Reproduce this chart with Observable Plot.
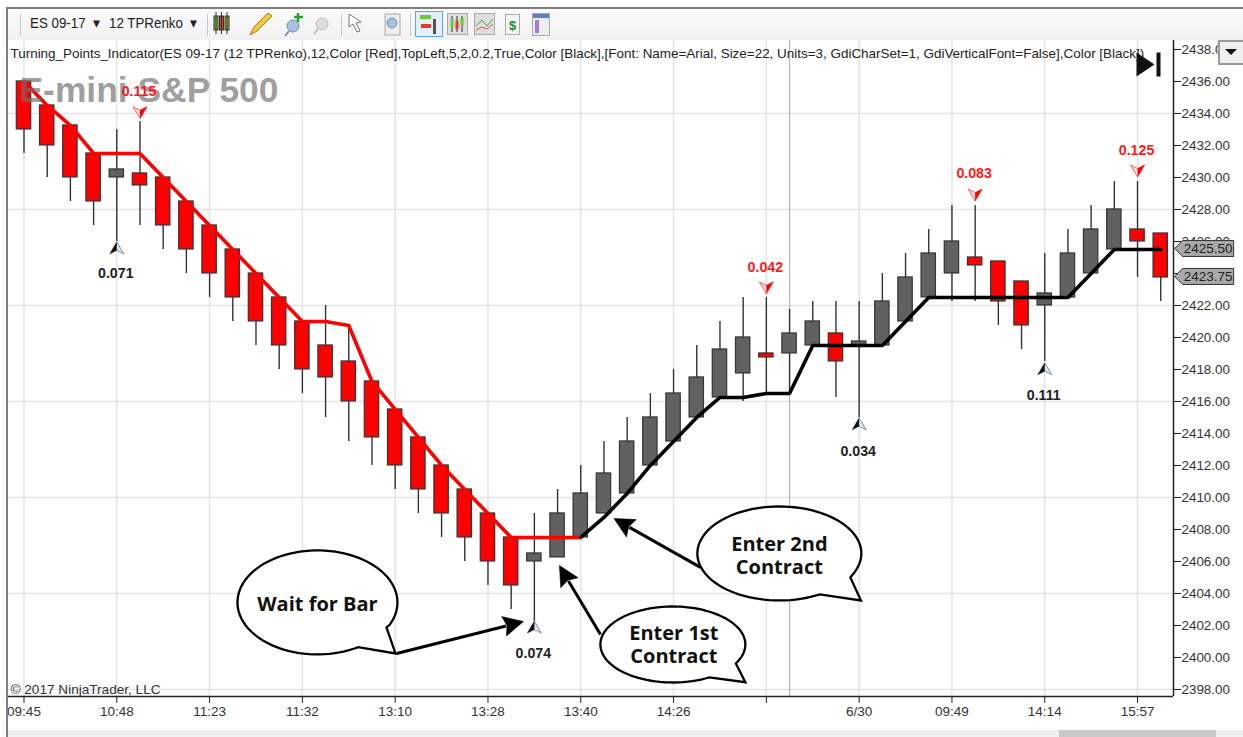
<!DOCTYPE html>
<html>
<head>
<meta charset="utf-8">
<script src="https://cdn.jsdelivr.net/npm/d3@7"></script>
<script src="https://cdn.jsdelivr.net/npm/@observablehq/plot@0.6"></script>
<style>
html,body{margin:0;padding:0;background:#fff;overflow:hidden}
#page{position:relative;width:1243px;height:737px;overflow:hidden;font-family:"Liberation Sans",Arial,sans-serif}
#chart svg{display:block;background:transparent}
.a{position:absolute}
.tb{font-size:14.5px;color:#222;top:15px;white-space:pre;transform:scaleX(.92);transform-origin:left}
</style>
</head>
<body>
<div id="page">
  <div id="chart"></div>
  <div class="a" style="left:8px;top:9px;width:1235px;height:31px;background:linear-gradient(#fafafa,#f1f1f1)"></div>
  <div class="a" style="left:0;top:0;width:6px;height:737px;background:#fff"></div>
  <div class="a" style="left:6px;top:7px;width:1237px;height:2px;background:#7f7f7f"></div>
  <div class="a" style="left:6px;top:7px;width:2px;height:730px;background:#7f7f7f"></div>
  <div class="a" style="left:8px;top:730px;width:1235px;height:7px;background:#f0f0f0"></div>
  <div class="a" style="left:1059px;top:730px;width:157px;height:7px;background:#c9c9c9"></div>
  <div class="a tb" style="left:30px">ES 09-17  ▾</div>
  <div class="a tb" style="left:109px">12 TPRenko  ▾</div>
  <div class="a" id="tools" style="left:0;top:9px;width:600px;height:31px"></div>
  <div class="a" style="left:1218px;top:40px;width:23px;height:21px;background:#efefef;border:2px solid #9a9a9a;box-sizing:content-box"></div>
  <div class="a" style="left:1225px;top:49px;width:0;height:0;border-left:6px solid transparent;border-right:6px solid transparent;border-top:6px solid #111"></div>
</div>
<script>
// ---- data (prices) ----
const barTop = [2436,2434.5,2433.25,2431.5,2430.5,2430.25,2430,2428.5,2427,2425.5,2424,2422.5,2421,2419.5,2418.5,2417.25,2415.5,2413.75,2412,2410.5,2409,2407.5,2406.5,2409,2410.25,2411.5,2413.5,2415,2416.5,2417.5,2419.25,2420,2419,2420.25,2421,2420.25,2419.75,2422.25,2423.75,2425.25,2426,2425,2424.75,2423.5,2422.75,2425.25,2426.75,2428,2426.75,2426.5];
const barBottom = [2433,2432,2430,2428.5,2430,2429.5,2427,2425.5,2424,2422.5,2421,2419.5,2418,2417.5,2416,2413.75,2412,2410.5,2409,2407.5,2406,2404.5,2406,2406.25,2407.5,2409,2410.25,2412,2413.5,2415,2416.25,2417.75,2418.75,2419,2419.5,2418.5,2419.5,2419.5,2421,2422.5,2424,2424.5,2422.25,2420.75,2422,2422.5,2424,2425.5,2426,2423.75];
const barHigh = [2436,2434.5,2433.25,2431.5,2433,2433.5,2430,2428.5,2427,2425.5,2424,2422.5,2421,2422,2420.75,2417.25,2415.5,2413.75,2412,2410.5,2409,2407.5,2409,2410.5,2412,2413.5,2415,2416.5,2418,2419.5,2421,2422.5,2422.5,2421.75,2422.25,2422.25,2422.25,2424,2425.25,2426.75,2428.25,2428.25,2424.75,2423.5,2425.25,2426.75,2428.25,2429.75,2429.75,2426.5];
const barLow = [2431.5,2430,2428.5,2427,2426,2427,2425.5,2424,2422.5,2421,2419.5,2418,2416.5,2415,2413.5,2412,2410.5,2409,2407.5,2406,2404.5,2403,2402.25,2406.25,2407.5,2409,2410.25,2412,2413.5,2415,2416.25,2416,2416.5,2416.5,2419.5,2416.25,2415,2419.5,2421,2422.5,2422.25,2422.25,2420.75,2419.25,2418.5,2422.5,2424,2425.5,2423.75,2422.25];
const barUp = [0,0,0,0,1,0,0,0,0,0,0,0,0,0,0,0,0,0,0,0,0,0,1,1,1,1,1,1,1,1,1,1,0,1,1,0,1,1,1,1,1,0,0,0,1,1,1,1,0,0];
const redLine = [2436,2434.5,2433.25,2431.5,2431.5,2431.5,2430,2428.5,2427,2425.5,2424,2422.5,2421,2421,2420.75,2417.25,2415.5,2413.75,2412,2410.5,2409,2407.5,2407.5,2407.5,2407.5];
const blackLine = [2407.5,2408.75,2410.25,2412,2413.5,2415,2416.25,2416.25,2416.5,2416.5,2419.5,2419.5,2419.5,2419.5,2421,2422.5,2422.5,2422.5,2422.5,2422.5,2422.5,2422.5,2424,2425.5,2425.5,2425.5];
const blackStart = 24;

const markerBar = [5,4,22,32,36,41,44,48];
const markerPrice = [2434.05,2425.6,2401.9,2423.1,2414.6,2428.9,2418.05,2430.4];
const markerLabelPrice = [2435.4,2424,2400.25,2424.4,2412.9,2430.25,2416.4,2431.7];
const markerText = ["0.115","0.071","0.074","0.042","0.034","0.083","0.111","0.125"];
const markerDown = [1,0,0,1,0,1,0,1];

const xTickBars = [0,4,8,12,16,20,24,28,32,36,40,44,48];
const xTickLabels = ["09:45","10:48","11:23","11:32","13:10","13:28","13:40","14:26","","6/30","09:49","14:14","15:57"];
const xGridBars = xTickBars;
const sessionBar = 33;
const yTicks = d3.range(2398, 2440, 2);
const yGrid = [2398,2404,2410,2416,2422,2428,2434];
const priceFlags = [2425.5,2423.75];

const bubbleBar = [12.65,27.97,32.56];
const bubblePrice = [2403.44,2400.81,2406.5];
const bubbleTexts = [["Wait for Bar"],["Enter 1st","Contract"],["Enter 2nd","Contract"]];
const arrowFromBar = [16.06,24.85,29.16];
const arrowFromPrice = [2400.25,2401.44,2405.63];
const arrowToBar = [20.78,23.47,26.1];
const arrowToPrice = [2401.97,2404.78,2408.13];
const arrowTipBar = [21.53,23.08,25.43];
const arrowTipPrice = [2402.25,2405.75,2408.69];
const arrowRotate = [76,-30,-60.5];

const indicatorText = "Turning_Points_Indicator(ES 09-17 (12 TPRenko),12,Color [Red],TopLeft,5,2,0.2,True,Color [Black],[Font: Name=Arial, Size=22, Units=3, GdiCharSet=1, GdiVerticalFont=False],Color [Black])";

// ---- tables ----
const bars = barTop.map((t,i)=>({i,top:t,bottom:barBottom[i],high:barHigh[i],low:barLow[i],up:barUp[i]}));
const redPts = redLine.map((p,i)=>({i,p}));
const blackPts = blackLine.map((p,i)=>({i:i+blackStart,p}));
const markers = markerBar.map((b,k)=>({b,p:markerPrice[k],lp:markerLabelPrice[k],t:markerText[k],down:markerDown[k]}));
const arrows = arrowTipBar.map((b,k)=>({fx:arrowFromBar[k],fy:arrowFromPrice[k],tx:arrowToBar[k],ty:arrowToPrice[k],b,p:arrowTipPrice[k],r:arrowRotate[k]}));

// ---- symbols ----
function poly(pts){return {draw(c){pts.forEach((q,i)=>i?c.lineTo(q[0],q[1]):c.moveTo(q[0],q[1]));c.closePath();}};}
const downFull = poly([[-7,-6],[0,-2.5],[7,-6],[0,6]]);
const downHalf = poly([[0,-2.5],[7,-6],[0,6]]);
const upFull = poly([[0,-6],[7,6],[0,2.5],[-7,6]]);
const upHalf = poly([[0,-6],[0,2.5],[-7,6]]);
const arrowHead = poly([[0,0],[10,20],[0,17],[-10,20]]);
const flag = poly([[0,0],[8,-8],[59,-8],[59,8],[8,8]]);
const skipTri = poly([[-24,-12],[-6,0],[-24,12]]);
const skipBar = poly([[-4,-12],[0,-12],[0,12],[-4,12]]);
function bubble(rx,ry,n,tip,back){
  return {draw(c){
    const a1=Math.atan2(n[1]/ry,n[0]/rx), a2=Math.atan2(back[1]/ry,back[0]/rx)-2*Math.PI;
    c.moveTo(n[0],n[1]);
    for(let k=1;k<=90;k++){const a=a1+(a2-a1)*k/90;c.lineTo(rx*Math.cos(a),ry*Math.sin(a));}
    c.lineTo(tip[0],tip[1]);c.closePath();
  }};
}
const bubbleShapes=[bubble(80,52,[69,25],[78,51],[41,45]),bubble(72.5,38,[63,19],[72.5,37.7],[35.5,32]),bubble(82,47,[71,24],[81.6,47],[40.7,41])];

const FONT="Liberation Sans";
const chart = Plot.plot({
  width:1243,height:737,
  marginLeft:8,marginRight:70,marginTop:40,marginBottom:41,
  style:{fontFamily:FONT,background:"transparent",overflow:"visible"},
  x:{domain:[-0.668,49.55],axis:null},
  y:{domain:[2397.56,2438.56],axis:null},
  marks:[
    Plot.gridX(xGridBars,{stroke:"#e4e4e4",strokeOpacity:1,strokeWidth:1.5}),
    Plot.gridY(yGrid,{stroke:"#e4e4e4",strokeOpacity:1,strokeWidth:1.5}),
    Plot.ruleX([sessionBar],{stroke:"#b4b4b4",strokeWidth:1.2}),
    Plot.ruleX(bars,{x:"i",y1:"low",y2:"high",stroke:"#333",strokeWidth:1.4}),
    Plot.rect(bars,{x1:d=>d.i-0.31,x2:d=>d.i+0.31,y1:"bottom",y2:"top",fill:d=>d.up?"#616161":"#ff0000",stroke:"#333",strokeWidth:1.2}),
    Plot.line(redPts,{x:"i",y:"p",stroke:"#ff0000",strokeWidth:3.6,strokeLinejoin:"miter",curve:"linear"}),
    Plot.line(blackPts,{x:"i",y:"p",stroke:"#000",strokeWidth:3.6,strokeLinejoin:"miter",curve:"linear"}),
    Plot.text(["E-mini S&P 500"],{text:d=>d,frameAnchor:"top-left",dx:11,dy:36,fontSize:35.4,fontWeight:"bold",fill:"#6e6e6e",fillOpacity:0.68,textAnchor:"start",lineAnchor:"top"}),
    Plot.dot(markers.filter(d=>d.down),{x:"b",y:"p",symbol:downFull,fill:"#ffd9d9",stroke:"#ff3030",strokeWidth:0.7}),
    Plot.dot(markers.filter(d=>d.down),{x:"b",y:"p",symbol:downHalf,fill:"#ff0000",stroke:"none"}),
    Plot.dot(markers.filter(d=>!d.down),{x:"b",y:"p",symbol:upFull,fill:"#dbe6f2",stroke:"#5a6a80",strokeWidth:0.7}),
    Plot.dot(markers.filter(d=>!d.down),{x:"b",y:"p",symbol:upHalf,fill:"#111",stroke:"none"}),
    Plot.text(markers,{x:"b",y:"lp",text:"t",dx:-1,fontSize:14.2,fontWeight:"bold",fill:d=>d.down?"#ff1a1a":"#222"}),
    Plot.link(arrows,{x1:"fx",y1:"fy",x2:"tx",y2:"ty",stroke:"#000",strokeWidth:3,curve:"linear"}),
    Plot.dot(arrows,{x:"b",y:"p",symbol:arrowHead,rotate:"r",fill:"#000",stroke:"#000",strokeWidth:0.5}),
    ...bubbleShapes.map((s,k)=>Plot.dot([k],{x:d=>bubbleBar[d],y:d=>bubblePrice[d],symbol:s,fill:"#fff",stroke:"#000",strokeWidth:2.3})),
    ...bubbleTexts.map((lines,k)=>Plot.text([lines.join("\n")],{x:()=>bubbleBar[k],y:()=>bubblePrice[k],text:d=>d,dx:k==1?1:0,dy:k==2?2:(k==0?1:0),fontSize:20,fontWeight:"bold",fontFamily:"Open Sans",fill:"#111",lineHeight:1.15})),
    Plot.ruleY([2397.56],{stroke:"#222",strokeWidth:1.5}),
    Plot.ruleX([49.55],{stroke:"#222",strokeWidth:1.5}),
    Plot.axisX(xTickBars,{anchor:"bottom",label:null,tickSize:7,tickPadding:3,fontSize:13.5,tickFormat:d=>xTickLabels[xTickBars.indexOf(d)],stroke:"#222",fill:"#333"}),
    Plot.axisY(yTicks,{anchor:"right",label:null,tickSize:7,tickPadding:1,fontSize:13.4,tickFormat:d=>d.toFixed(2),textAnchor:"start",stroke:"#222",fill:"#333"}),
    Plot.dot(priceFlags,{x:()=>49.6,y:d=>d,dy:-1,symbol:flag,fill:"#a8a8a8",stroke:"#333",strokeWidth:1}),
    Plot.text(priceFlags,{x:()=>49.6,y:d=>d,text:d=>d.toFixed(2),dx:9,dy:-1,fontSize:13.5,fill:"#222",textAnchor:"start"}),
    Plot.text([indicatorText],{text:d=>d,frameAnchor:"top-left",dx:2,dy:8,fontSize:13.45,fill:"#222",textAnchor:"start",lineAnchor:"top"}),
    Plot.text(["© 2017 NinjaTrader, LLC"],{text:d=>d,frameAnchor:"bottom-left",dx:2,dy:-3,fontSize:13.6,fill:"#333",textAnchor:"start",lineAnchor:"bottom"}),
    Plot.dot([0],{frameAnchor:"top-right",dx:-13,dy:24,symbol:skipTri,fill:"#111",stroke:"none"}),
    Plot.dot([0],{frameAnchor:"top-right",dx:-13,dy:24,symbol:skipBar,fill:"#111",stroke:"none"})
  ]
});
document.getElementById("chart").append(chart);

// ---- toolbar icons ----
document.getElementById("tools").innerHTML = `<svg width="600" height="31" style="display:block">
<g stroke="#c8c8c8"><path d="M20.5 5V27M207.5 5V27M341.5 5V27M410.5 5V27"/></g>
<g stroke="#333" fill="#7ec02a"><rect x="214" y="7" width="4" height="14"/><rect x="225" y="7" width="4" height="14" /></g><rect x="219.5" y="7" width="4" height="14" fill="#e33" stroke="#333"/><path d="M216 3V25M221.5 3V25M227 3V25" stroke="#333"/>
<path d="M250 26l4-8 14-14 4 3-15 15z" fill="#f5c93a" stroke="#a87a10"/>
<circle cx="293" cy="17" r="6" fill="#a8c0dc" stroke="#6f8fb5"/><path d="M289 22l-4 5" stroke="#6f8fb5" stroke-width="2"/><path d="M298 4v9M294 8h9" stroke="#2ca02c" stroke-width="2.5"/>
<circle cx="322" cy="15" r="6" fill="#ddd" stroke="#bbb"/><path d="M318 20l-4 5" stroke="#bbb" stroke-width="2"/>
<path d="M349 5l12 8-5 1 4 8-3 1-4-8-4 3z" fill="#fff" stroke="#777"/>
<rect x="385" y="5" width="15" height="21" fill="#eee" stroke="#aaa"/><circle cx="392" cy="14" r="5" fill="#a8c0dc" stroke="#6f8fb5"/>
<rect x="415.5" y="2.5" width="27" height="25" fill="#e4f0fb" stroke="#5aa6e6"/><rect x="420" y="6" width="11" height="4" fill="#6c3"/><rect x="421" y="15" width="10" height="4" fill="#e33"/><rect x="433" y="10" width="3" height="15" fill="#555"/>
<rect x="447.5" y="4.5" width="20" height="21" fill="#ddd" stroke="#aaa"/><path d="M452 7v16M457 7v16M462 7v16" stroke="#333"/><rect x="450.5" y="10" width="3" height="8" fill="#6c3"/><rect x="455.5" y="12" width="3" height="8" fill="#e33"/><rect x="460.5" y="9" width="3" height="8" fill="#6c3"/>
<rect x="474.5" y="4.5" width="20" height="21" fill="#ddd" stroke="#aaa"/><path d="M476 17l6-6 5 6 6-7" fill="none" stroke="#4a4"/><path d="M476 21l6-3 5 2 6-5" fill="none" stroke="#d55"/>
<rect x="505.5" y="5.5" width="14" height="20" fill="#f4f4f4" stroke="#aaa"/><text x="512.5" y="21" font-size="13" font-weight="bold" fill="#1a8a3a" text-anchor="middle" font-family="Liberation Sans">$</text>
<rect x="532.5" y="4.5" width="17" height="22" fill="#eee" stroke="#aaa"/><rect x="533" y="5" width="16" height="4" fill="#5b7fbf"/><rect x="535" y="11" width="4" height="13" fill="#a07adf"/>
</svg>`;
</script>
</body>
</html>
